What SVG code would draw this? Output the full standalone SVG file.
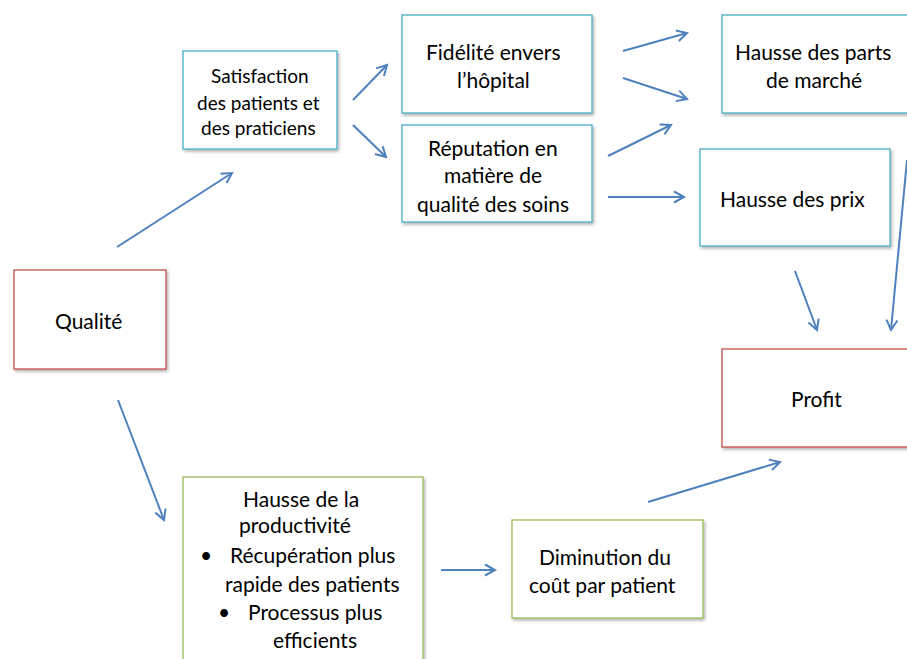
<svg xmlns="http://www.w3.org/2000/svg" width="907" height="659" viewBox="0 0 907 659">
<defs>
<marker id="ah" markerWidth="14" markerHeight="14" refX="11" refY="7" orient="auto" markerUnits="userSpaceOnUse">
<path d="M1,1.5 L11,7 L1,12.5" fill="none" stroke="#4f81bd" stroke-width="2"/>
</marker>
<filter id="sh" x="-10%" y="-10%" width="130%" height="130%">
<feDropShadow dx="1.5" dy="2" stdDeviation="1.5" flood-color="#000" flood-opacity="0.3"/>
</filter>
<style>
.box{fill:#fff;stroke-width:1.3;filter:url(#sh)}
.blue{stroke:#4bacc6}
.red{stroke:#c0504d}
.green{stroke:#9bbb59}
text{font-family:Lato,"Open Sans","Liberation Sans",sans-serif;font-size:21px;fill:#000}
.s{font-size:19px}
.p{font-size:21px}
.conn line{stroke:#4f81bd;stroke-width:2;marker-end:url(#ah)}
</style>
</defs>
<rect width="907" height="659" fill="#fff"/>
<g id="qualite">
<rect class="box red" x="14" y="270" width="152" height="99"/>
<text x="55" y="329">Qualité</text>
</g>
<g id="satisfaction">
<rect class="box blue" x="183" y="51" width="154" height="98"/>
<text class="s" x="211" y="83">Satisfaction</text>
<text class="s" x="197" y="110">des patients et</text>
<text class="s" x="201" y="135">des praticiens</text>
</g>
<g id="fidelite">
<rect class="box blue" x="402" y="15" width="190" height="98"/>
<text x="426" y="60">Fidélité envers</text>
<text x="457" y="88">l’hôpital</text>
</g>
<g id="reputation">
<rect class="box blue" x="402" y="125" width="190" height="97"/>
<text x="428" y="156">Réputation en</text>
<text x="444" y="183">matière de</text>
<text x="417" y="212">qualité des soins</text>
</g>
<g id="parts">
<rect class="box blue" x="722" y="15" width="200" height="98"/>
<text x="735" y="60">Hausse des parts</text>
<text x="766" y="88">de marché</text>
</g>
<g id="prix">
<rect class="box blue" x="700" y="149" width="190" height="97"/>
<text x="720" y="207">Hausse des prix</text>
</g>
<g id="profit">
<rect class="box red" x="722" y="349" width="200" height="98"/>
<text x="791" y="407">Profit</text>
</g>
<g id="productivite">
<rect class="box green" x="183" y="477" width="240" height="200"/>
<text class="p" x="243" y="507">Hausse de la</text>
<text class="p" x="239" y="533">productivité</text>
<text class="p" x="200" y="563">•</text>
<text class="p" x="230" y="563">Récupération plus</text>
<text class="p" x="225" y="592">rapide des patients</text>
<text class="p" x="218" y="620">•</text>
<text class="p" x="248" y="620">Processus plus</text>
<text class="p" x="273" y="648">efficients</text>
</g>
<g id="diminution">
<rect class="box green" x="512" y="520" width="191" height="98"/>
<text x="539" y="565">Diminution du</text>
<text x="529" y="593">coût par patient</text>
</g>
<g id="connectors" class="conn">
<line x1="117" y1="247" x2="232" y2="173"/>
<line x1="118" y1="400" x2="164" y2="520"/>
<line x1="353" y1="100" x2="387" y2="65"/>
<line x1="353" y1="125" x2="386" y2="157"/>
<line x1="623" y1="51" x2="687" y2="33"/>
<line x1="623" y1="78" x2="687" y2="99"/>
<line x1="608" y1="156" x2="671" y2="125"/>
<line x1="608" y1="197" x2="684" y2="197"/>
<line x1="795" y1="271" x2="817" y2="330"/>
<line x1="907" y1="160" x2="891" y2="330"/>
<line x1="441" y1="570" x2="495" y2="570"/>
<line x1="648" y1="502" x2="780" y2="462"/>
</g>
</svg>
